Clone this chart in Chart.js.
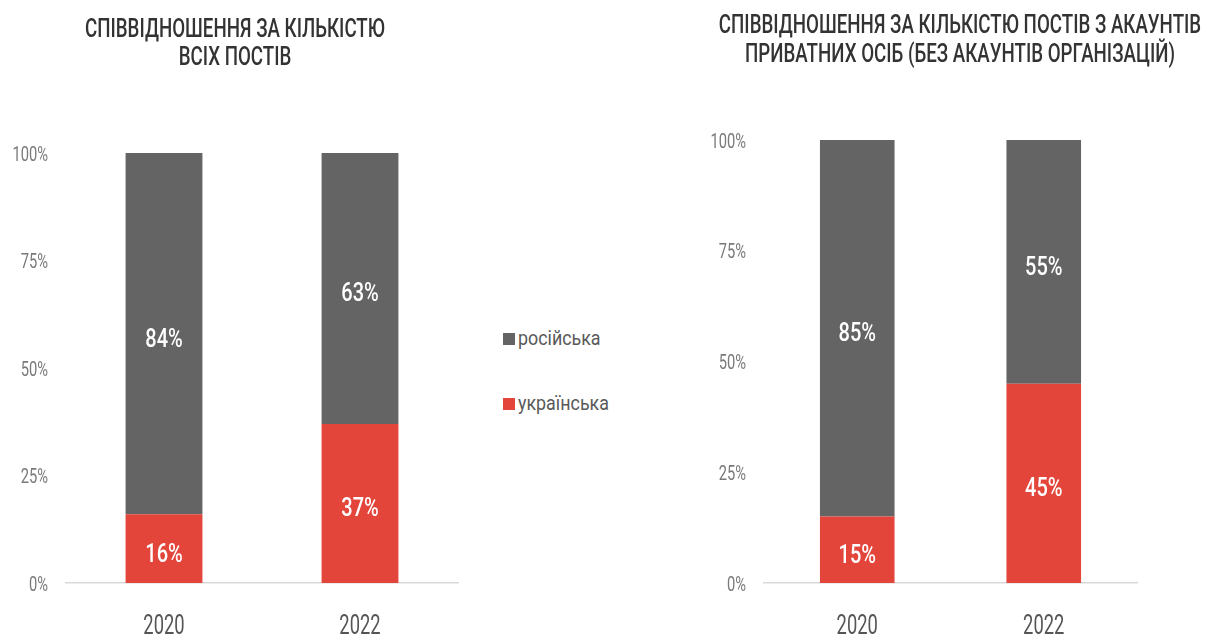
<!DOCTYPE html>
<html lang="uk">
<head>
<meta charset="utf-8">
<title>Мова постів</title>
<script src="https://cdn.jsdelivr.net/npm/chart.js@4.4.0/dist/chart.umd.min.js"></script>
<style>
  body { margin: 0; width: 1205px; height: 637px; background: #fff; position: relative; overflow: hidden; }
  .box { position: absolute; top: 0; height: 637px; }
  #left { left: 0; width: 470px; }
  #right { left: 700px; width: 520px; }
  #legend { position: absolute; left: 503px; top: 325px; margin: 0; padding: 0; list-style: none;
            font-family: Roboto, sans-serif; font-size: 21px; color: #595959; }
  #legend li { height: 26px; line-height: 26px; margin-bottom: 39px; white-space: nowrap; }
  #legend span { display: inline-block; width: 12px; height: 12px; margin-right: 3px; vertical-align: 0px; }
  #legend em { font-style: normal; display: inline-block; transform: scaleX(0.85); transform-origin: left center; }
</style>
</head>
<body>
<div class="box" id="left"><canvas id="chartAll"></canvas></div>
<div class="box" id="right"><canvas id="chartPriv"></canvas></div>
<ul id="legend"></ul>
<script>
// years on the x axis
const years = ['2020', '2022'];
// series names, bottom segment first
const langNames = ['українська', 'російська'];
const langColors = ['#e3453b', '#646464'];

// all posts
const allUkr = [16, 37];
const allRus = [84, 63];
// posts from private accounts only
const privUkr = [15, 45];
const privRus = [85, 55];

const yTicks = [0, 25, 50, 75, 100];

const titleAll = ['СПІВВІДНОШЕННЯ ЗА КІЛЬКІСТЮ', 'ВСІХ ПОСТІВ'];
const titlePriv = ['СПІВВІДНОШЕННЯ ЗА КІЛЬКІСТЮ ПОСТІВ З АКАУНТІВ', 'ПРИВАТНИХ ОСІБ (БЕЗ АКАУНТІВ ОРГАНІЗАЦІЙ)'];

// all the text is set in a narrow face: Roboto squeezed horizontally
const textAt = (ctx, text, x, y, size, color, align, sx, weight) => {
  ctx.save();
  ctx.font = `${weight || 400} ${size}px Roboto, sans-serif`;
  ctx.fillStyle = color;
  ctx.textAlign = align;
  ctx.textBaseline = 'alphabetic';
  ctx.translate(x, y);
  ctx.scale(sx, 1);
  ctx.fillText(text, 0, 0);
  ctx.restore();
};

// titles, tick labels and percent labels
const narrowText = {
  id: 'narrowText',
  afterDraw(chart, args, opts) {
    const ctx = chart.ctx;
    const area = chart.chartArea;

    opts.title.forEach((line, i) => {
      textAt(ctx, line, chart.width / 2, opts.titleY[i], 26, '#333333', 'center', 0.72, 500);
    });

    const y = chart.scales.y;
    y.ticks.forEach((t) => {
      textAt(ctx, t.value + '%', area.left - 18, y.getPixelForValue(t.value) + 7.5, 21, '#7a7a7a', 'right', 0.7);
    });

    const x = chart.scales.x;
    chart.data.labels.forEach((lab, i) => {
      textAt(ctx, lab, x.getPixelForValue(i), 634, 27, '#555555', 'center', 0.68);
    });

    chart.data.datasets.forEach((ds, i) => {
      chart.getDatasetMeta(i).data.forEach((bar, j) => {
        const mid = (bar.y + bar.base) / 2;
        textAt(ctx, ds.data[j] + '%', bar.x, mid + 4 + 9, 25, '#ffffff', 'center', 0.8, 500);
      });
    });
  }
};

const makeChart = (id, title, ukr, rus, opts) => {
  return new Chart(document.getElementById(id), {
    type: 'bar',
    data: {
      labels: years,
      datasets: [
        { label: langNames[0], data: ukr, backgroundColor: langColors[0], barPercentage: 0.8, categoryPercentage: opts.barPart },
        { label: langNames[1], data: rus, backgroundColor: langColors[1], barPercentage: 0.8, categoryPercentage: opts.barPart }
      ]
    },
    options: {
      responsive: true,
      maintainAspectRatio: false,
      animation: false,
      layout: { padding: { top: opts.top, right: opts.padRight, bottom: 0, left: 0 } },
      plugins: {
        legend: { display: false },
        tooltip: { enabled: false },
        title: { display: false },
        narrowText: { title: title, titleY: opts.titleY }
      },
      scales: {
        x: {
          stacked: true,
          grid: { display: false },
          border: { color: '#d9d9d9', width: 1.5 },
          ticks: { display: false },
          afterFit: (scale) => { scale.height = 54; }
        },
        y: {
          stacked: true,
          min: 0,
          max: 100,
          grid: { display: false },
          border: { display: false },
          afterBuildTicks: (scale) => { scale.ticks = yTicks.map(v => ({ value: v })); },
          ticks: { display: false },
          afterFit: (scale) => { scale.width = opts.yWidth; }
        }
      }
    },
    plugins: [narrowText]
  });
};

const chartAll = makeChart('chartAll', titleAll, allUkr, allRus,
  { barPart: 0.49, padRight: 12, yWidth: 66, top: 153, titleY: [37, 65] });
const chartPriv = makeChart('chartPriv', titlePriv, privUkr, privRus,
  { barPart: 0.50, padRight: 83, yWidth: 64, top: 140, titleY: [33, 62] });

// legend between the two charts, top item is the upper segment
const legendEl = document.getElementById('legend');
Chart.defaults.plugins.legend.labels.generateLabels(chartAll).reverse().forEach((item) => {
  legendEl.innerHTML += `<li><span style="background:${item.fillStyle}"></span><em>${item.text}</em></li>`;
});
</script>
</body>
</html>
